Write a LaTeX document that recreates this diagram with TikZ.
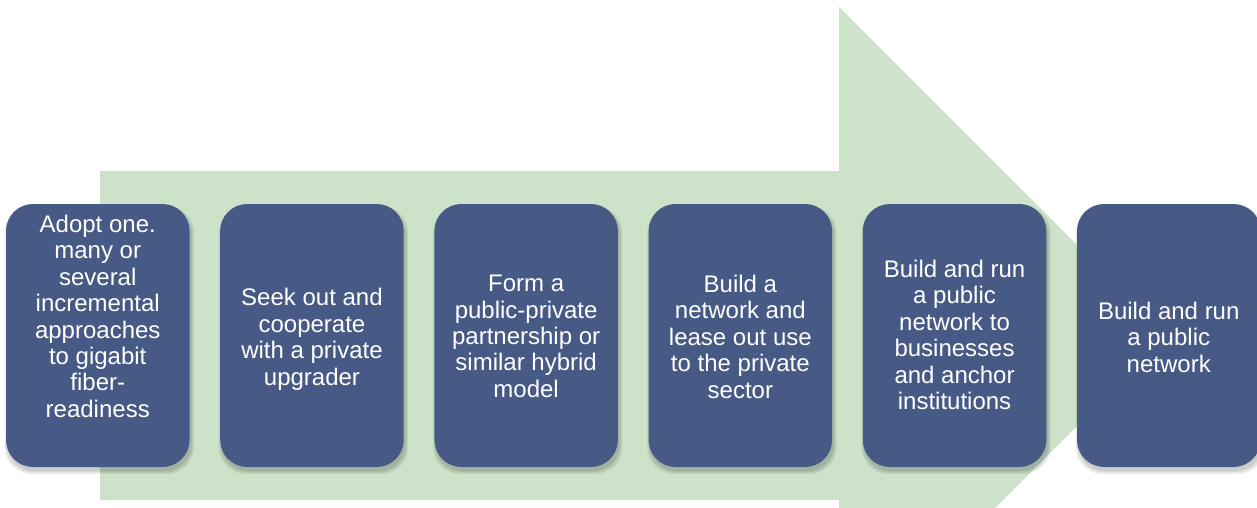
\documentclass[tikz,border=0pt]{standalone}
\usepackage{fontspec}
\setmainfont{Liberation Sans}
\definecolor{boxblue}{RGB}{70,90,133}
\definecolor{arrowgreen}{RGB}{204,226,201}
\begin{document}
\begin{tikzpicture}[x=1pt,y=-1pt,
  stepbox/.style={rectangle, rounded corners=27pt, fill=boxblue, minimum width=183.5pt, minimum height=263pt, inner sep=0pt},
  steptext/.style={anchor=north, align=center, text=white, inner sep=0pt, font=\fontsize{24}{26.4}\selectfont}]
\useasboundingbox (0,0) rectangle (1257,508);
\clip (0,0) rectangle (1257,508);
% big arrow
\fill[arrowgreen] (100,171) -- (839,171) -- (839,7) -- (1167.5,335.5) -- (839,664) -- (839,500) -- (100,500) -- cycle;
% soft shadows
\foreach \i in {0,...,5}{
  \foreach \k in {0,1,2,3,4}{
    \fill[black, opacity=0.045, rounded corners=27pt]
      ({6+214.2*\i+1.5-\k*0.8},{204+4-\k*0.6}) rectangle ({6+214.2*\i+183.5+1.5+\k*0.8},{467+4+\k*0.8});
  }
}
% boxes
\node[stepbox] (b1) at (97.75,335.5) {};
\node[stepbox] (b2) at (311.95,335.5) {};
\node[stepbox] (b3) at (526.15,335.5) {};
\node[stepbox] (b4) at (740.35,335.5) {};
\node[stepbox] (b5) at (954.55,335.5) {};
\node[stepbox] (b6) at (1168.75,335.5) {};
% texts
\node[steptext] (t1) at (97.75,215) {Adopt one.\\many or\\several\\incremental\\approaches\\to gigabit\\fiber-\\readiness};
\node[steptext] (t2) at (311.95,288.3) {Seek out and\\cooperate\\with a private\\upgrader};
\node[steptext] (t3) at (526.15,275) {Form a\\public-private\\partnership or\\similar hybrid\\model};
\node[steptext] (t4) at (740.35,275) {Build a\\network and\\lease out use\\to the private\\sector};
\node[steptext] (t5) at (954.55,260) {Build and run\\a public\\network to\\businesses\\and anchor\\institutions};
\node[steptext] (t6) at (1168.75,302) {Build and run\\a public\\network};
\end{tikzpicture}
\end{document}
